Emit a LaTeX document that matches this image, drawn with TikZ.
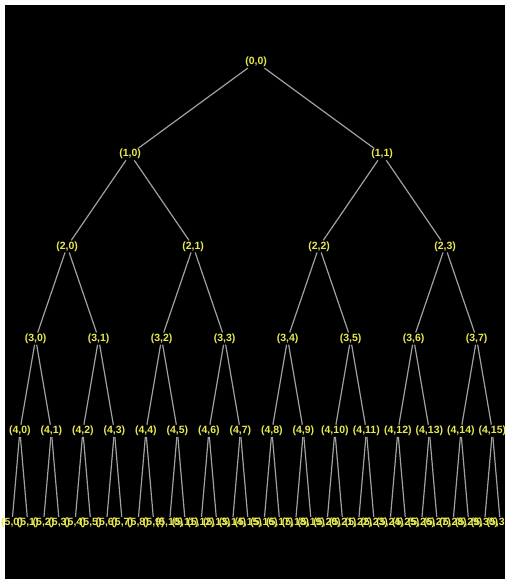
\documentclass[tikz,border=0pt]{standalone}
\usepackage{fontspec}
\setsansfont{Liberation Sans}
\definecolor{lblyellow}{RGB}{232,232,84}
\definecolor{edgegray}{RGB}{160,160,160}
\begin{document}
\begin{tikzpicture}[x=1pt,y=-1pt,
    lbl/.style={text=lblyellow, inner sep=1pt, font=\sffamily\bfseries\fontsize{10.5}{11}\selectfont},
    edge/.style={edgegray, line width=1.2pt}]
    % Frame
    \fill[white] (0,0) rectangle (505,579);
    \fill[black] (5,5) rectangle (505,579);
    \useasboundingbox (0,0) rectangle (505,579);

    % Nodes (depth, index)
    \foreach \d in {0,...,5} {
        \pgfmathtruncatemacro\cnt{2^\d-1}
        \foreach \i in {0,...,\cnt} {
            \pgfmathsetmacro\xx{12+15.75*((\i+0.5)*2^(5-\d)-0.5)}
            \node[lbl] (n-\d-\i) at (\xx,{62+92.2*\d}) {(\d,\i)};
        }
    }

    % Edges parent -> child
    \foreach \d in {1,...,5} {
        \pgfmathtruncatemacro\cnt{2^\d-1}
        \pgfmathtruncatemacro\pd{\d-1}
        \foreach \i in {0,...,\cnt} {
            \pgfmathtruncatemacro\pj{floor(\i/2)}
            \draw[edge] (n-\pd-\pj) -- (n-\d-\i);
        }
    }
\end{tikzpicture}
\end{document}
